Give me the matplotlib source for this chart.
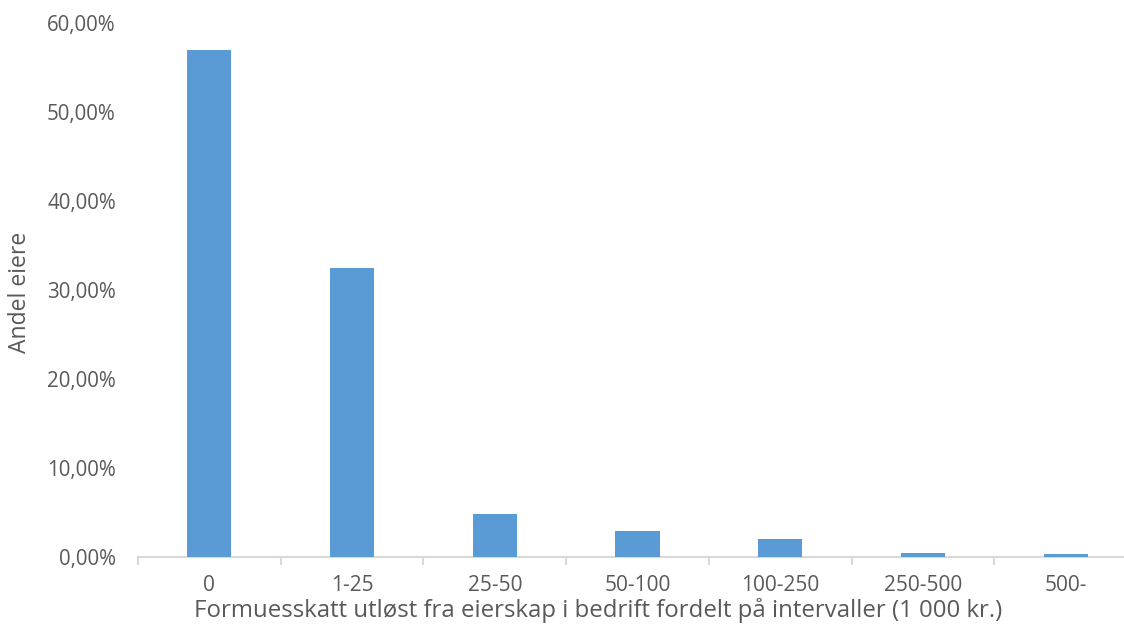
import matplotlib
matplotlib.use("Agg")
import matplotlib.pyplot as plt
from matplotlib.ticker import FuncFormatter

categories = ["0", "1-25", "25-50", "50-100", "100-250", "250-500", "500-"]
values = [57.0, 32.5, 4.85, 2.9, 2.0, 0.45, 0.35]
yticks = [0, 10, 20, 30, 40, 50, 60]

plt.rcParams['font.family'] = ['Open Sans', 'DejaVu Sans']
fig = plt.figure(figsize=(11.24, 6.25), dpi=100)
W, H = 1124, 625
x0, x1 = 138, 1137
y0, y1 = 557, 23
ax = fig.add_axes([x0 / W, 1 - y0 / H, (x1 - x0) / W, (y0 - y1) / H])

xs = list(range(len(categories)))
ax.bar(xs, values, width=0.31, color="#5B9BD5", zorder=3)
ax.set_xlim(-0.5, len(categories) - 0.5)
ax.set_ylim(0, 60)
ax.set_yticks(yticks)
ax.yaxis.set_major_formatter(FuncFormatter(lambda v, p: f"{v:.2f}".replace(".", ",") + "%"))
ax.set_xticks(xs)
ax.set_xticklabels(categories)
ax.set_xticks([i + 0.5 for i in range(-1, len(categories))], minor=True)

for s in ["top", "right", "left"]:
    ax.spines[s].set_visible(False)
ax.spines["bottom"].set_color("#D9D9D9")
ax.spines["bottom"].set_linewidth(1.5)
ax.tick_params(axis="y", length=0, labelsize=14.8, labelcolor="#595959", pad=16)
ax.tick_params(axis="x", which="major", length=0, labelsize=15, labelcolor="#595959", pad=13)
ax.tick_params(axis="x", which="minor", length=6, color="#D9D9D9", width=1.5)

ax.set_ylabel("Andel eiere", fontsize=16.5, color="#595959")
ax.yaxis.set_label_coords((20 - x0) / (x1 - x0), (557 - 292) / (y0 - y1), transform=ax.transAxes)
ax.yaxis.label.set_va("center")
ax.set_xlabel("Formuesskatt utløst fra eierskap i bedrift fordelt på intervaller (1 000 kr.)",
              fontsize=17.3, color="#595959")
ax.xaxis.set_label_coords((598 - x0) / (x1 - x0), -0.076, transform=ax.transAxes)
ax.xaxis.label.set_va("top")

fig.savefig("out.png", dpi=100)
